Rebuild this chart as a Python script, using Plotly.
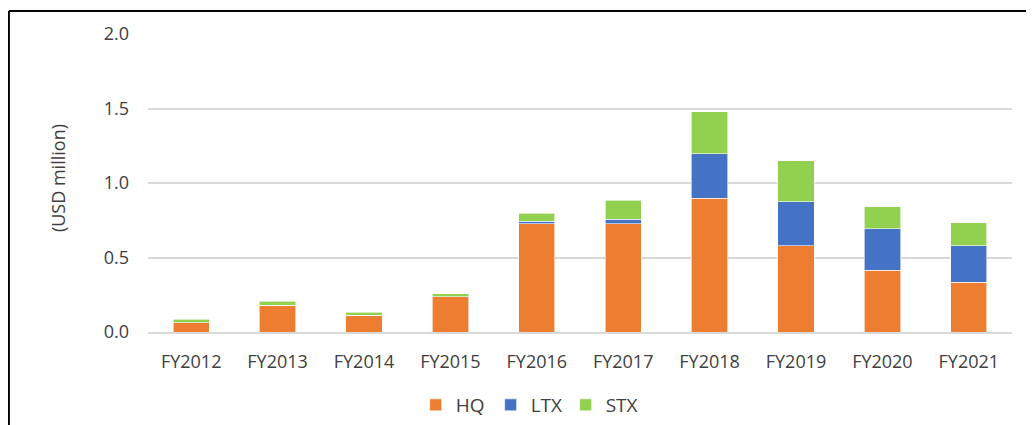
import plotly.graph_objects as go

categories = ["FY2012", "FY2013", "FY2014", "FY2015", "FY2016",
              "FY2017", "FY2018", "FY2019", "FY2020", "FY2021"]
hq = [0.062, 0.179, 0.112, 0.235, 0.727, 0.727, 0.897, 0.579, 0.414, 0.333]
ltx = [0.0, 0.0, 0.0, 0.0, 0.016, 0.031, 0.298, 0.296, 0.279, 0.246]
stx = [0.023, 0.029, 0.022, 0.022, 0.054, 0.126, 0.284, 0.275, 0.146, 0.155]
y_ticks = [0.0, 0.5, 1.0, 1.5, 2.0]
y_labels = ["0.0", "0.5", "1.0", "1.5", "2.0"]

FONT = "Open Sans"
TXT = "#404040"

fig = go.Figure()
for name, vals, col in [("HQ", hq, "#ED7D31"), ("LTX", ltx, "#4472C4"), ("STX", stx, "#92D050")]:
    fig.add_trace(go.Bar(x=categories, y=vals, name=name,
                         marker=dict(color=col, line=dict(color="white", width=0.6))))

# page body has an 8px margin: figure is offset by (8, 8) in the window
fig.update_layout(
    barmode="stack",
    bargap=0.58,
    width=1026, height=417,
    margin=dict(l=140, r=22, t=26, b=93, autoexpand=False),
    paper_bgcolor="white", plot_bgcolor="white",
    font=dict(family=FONT, size=18, color=TXT),
    showlegend=True,
    legend=dict(orientation="h", x=0.44, y=-0.245, xanchor="center", yanchor="middle",
                font=dict(family=FONT, size=19, color=TXT), traceorder="normal",
                itemwidth=30, tracegroupgap=0, entrywidth=30, entrywidthmode="pixels"),
    xaxis=dict(showgrid=False, showline=True, linecolor="#D9D9D9", linewidth=2,
               ticks="", tickfont=dict(size=18, color=TXT), ticklabelstandoff=12),
    yaxis=dict(range=[0, 2.0], tickvals=y_ticks, ticktext=y_labels,
               showgrid=True, gridcolor="#D9D9D9", gridwidth=2,
               zeroline=False, showline=False, ticks="",
               tickfont=dict(size=18, color=TXT), ticklabelstandoff=18),
    annotations=[dict(text="(USD million)", xref="paper", yref="paper",
                      x=-0.104, y=0.517, textangle=-90, showarrow=False,
                      xanchor="center", yanchor="middle",
                      font=dict(family=FONT, size=18, color=TXT))],
    shapes=[
        dict(type="line", xref="paper", yref="paper", x0=-0.161, x1=1.05, y0=1.077, y1=1.077,
             line=dict(color="black", width=2)),
        dict(type="line", xref="paper", yref="paper", x0=-0.161, x1=-0.161, y0=-0.5, y1=1.077,
             line=dict(color="black", width=2)),
    ],
)

fig.write_html("out.html")
